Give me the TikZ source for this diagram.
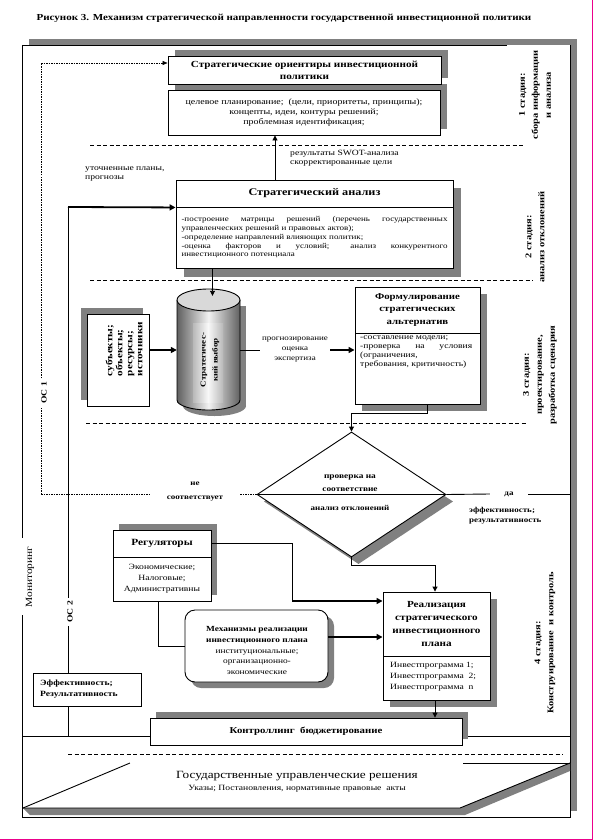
\documentclass[tikz,border=0pt]{standalone}
\usepackage{fontspec}
\setmainfont{Liberation Serif}[FakeStretch=1.2]
\usetikzlibrary{arrows.meta,shapes.geometric,calc}
\newcommand\fsz[2]{\fontsize{#1}{#2}\selectfont}
\definecolor{shd}{HTML}{808080}
\tikzset{
  box/.style={draw, fill=white, line width=0.9pt, inner sep=0pt},
  hdr/.style={font=\bfseries\fsz{9.3}{12}, align=center},
  ln/.style={line width=0.9pt},
  arr/.style={-{Triangle[length=5pt,width=5pt]}, line width=0.9pt},
  tarr/.style={-{Triangle[length=6pt,width=6pt]}, line width=1.8pt},
  sepline/.style={dash pattern=on 4pt off 2.5pt, line width=0.7pt},
  dotline/.style={dash pattern=on 1.5pt off 1pt, line width=0.6pt},
  stg/.style={rotate=90, font=\bfseries\fsz{8.7}{13}, align=center, inner sep=0pt},
  rot/.style={rotate=90, inner sep=0pt},
}
\begin{document}
\begin{tikzpicture}[x=1pt,y=-1pt]
\useasboundingbox (0,0) rectangle (593,840);
\fill[white] (0,0) rectangle (593,840);
\draw[magenta, line width=1pt] (592.5,0) -- (592.5,839.5) -- (0,839.5);

% title
\node[font=\bfseries\fsz{9.2}{11}, inner sep=0] (title) at (284,18) {Рисунок 3. Механизм стратегической направленности государственной инвестиционной политики};

% outer frame
\fill[shd] (29,39) rectangle (577,811);
\fill[white] (22,45) rectangle (570,817);
\draw[ln] (22,45) -- (507,45);
\draw[ln] (570,45) -- (570,817) -- (22,817) -- (22,615);
\draw[ln] (22,45) -- (22,538);

% stage labels
\node[stg] (st1) at (535,95) {1 стадия:\\сбора информации\\и анализа};
\node[stg] (st2) at (535,237) {2 стадия:\\анализ отклонений};
\node[stg] (st3) at (540,375) {3 стадия:\\проектирование,\\разработка сценария};
\node[stg] (st4) at (545,643) {4 стадия:\\Конструирование\ \ и контроль};

% separators
\draw[sepline] (90,145) -- (525,145);
\draw[sepline] (90,280) -- (533,280);
\draw[sepline] (86,423) -- (526,423);
\draw[sepline] (68,754) -- (563,754);

% strategic orientirs
\fill[shd] (175,50) rectangle (448,78);
\fill[shd] (175,84) rectangle (447,129);
\node[box, minimum width=273pt, minimum height=28pt, hdr] (oH) at (304.5,70) {Стратегические ориентиры инвестиционной\\политики};
\node[box, minimum width=272pt, minimum height=45pt, font=\fsz{8.3}{9.7}, align=center] (oB) at (304,112.5) {целевое планирование;\ \ (цели, приоритеты, принципы);\\концепты, идеи, контуры решений;\\проблемная идентификация;};

% strategic analysis
\fill[shd] (184,188) rectangle (461,277);
\node[box, minimum width=277pt, minimum height=27pt, hdr, font=\bfseries\fsz{10.2}{12}] (anH) at (314.5,193.5) {Стратегический анализ};
\node[box, minimum width=277pt, minimum height=61pt] (anB) at (314.5,237.5) {};
\node[font=\fsz{7.5}{8.8}, align=left, inner sep=0] (anT) at (anB) {\makebox[266pt][s]{-построение матрицы решений (перечень государственных}\\управленческих решений и правовых актов);\\-определение направлений влияющих политик;\\\makebox[266pt][s]{-оценка факторов и условий; анализ конкурентного}\\инвестиционного потенциала};

\node[font=\fsz{8}{9}, align=left, anchor=west, inner sep=0] (swot) at (290,158) {результаты SWOT-анализа\\скорректированные цели};
\draw[arr] ([xshift=-39.5pt]anH.north) -- ([xshift=-39.5pt]anH.north |- oB.south);

\node[font=\fsz{8}{9}, align=left, anchor=north west, inner sep=0] (utoch) at (85,167) {уточненные планы,\\прогнозы};

% OC2 line and arrow into analysis
\coordinate (oc2) at (68,207);
\draw[ln] (oc2) -- (68,598);
\draw[ln] (68,626) -- (68,736);
\draw[tarr] (oc2) -- (anH.south west);
\node[rot, font=\bfseries\fsz{8}{9}] (oc2l) at (70,612) {ОС 2};

% OC1 dotted line
\coordinate (oc1b) at (41,494);
\draw[dotline] (oc1b) -- (41,408);
\draw[dotline, -{Triangle[length=5pt,width=4pt]}] (41,378) |- ([yshift=7pt]oH.west);
\node[rot, font=\bfseries\fsz{8}{9}] (oc1l) at (44,393) {ОС 1};

% monitoring
\node[rot, font=\fsz{9.5}{11}] (mon) at (30,577) {Мониторинг};

% subjects box
\fill[shd] (81,308) rectangle (143,400);
\node[box, minimum width=62pt, minimum height=92pt] (sb) at (118,360) {};
\node[rotate=90, font=\bfseries\fsz{9.3}{10}, align=left, inner sep=0] (sbt) at (124,349) {субъекты;\\объекты;\\ресурсы;\\источники};

% cylinder
\fill[shd] (183,306) rectangle (246,406);
\fill[shd] (214.5,406) ellipse [x radius=31.5pt, y radius=10pt];
\shade[left color=gray!75!black, right color=gray!75!black, middle color=gray!10] (177,300) -- (177,400) arc[start angle=180,end angle=360,x radius=31.5pt,y radius=10pt] -- (240,300) -- cycle;
\draw[ln] (177,300) -- (177,400) arc[start angle=180,end angle=360,x radius=31.5pt,y radius=10pt] -- (240,300);
\draw[ln, fill=gray!30] (208.5,300) ellipse [x radius=31.5pt, y radius=11pt];
\shade[left color=gray!55, right color=gray!55, middle color=gray!5] (193,323) rectangle (223,402);
\node[rotate=90, font=\bfseries\fsz{7.5}{12}, align=center, inner sep=0] (cylt) at (210,360) {Стратегичес-\\кий выбор};
\node[minimum width=63pt, minimum height=120pt, inner sep=0pt] (cyl) at (208.5,350) {};

\draw[arr] ([xshift=4pt]cyl.north |- anB.south) -- ([xshift=4pt,yshift=-6pt]cyl.north);
\draw[tarr] (sb.east |- cyl.west) -- (cyl.west);

% prognoz label
\node[font=\fsz{7.5}{10}, align=center, inner sep=2pt] (prog) at (295,350) {прогнозирование\\оценка\\экспертиза};
\draw[ln] (cyl.east) -- (prog.west);

% formulation
\fill[shd] (362,294) rectangle (487,411);
\node[box, minimum width=125pt, minimum height=46pt, hdr, font=\bfseries\fsz{9}{12.3}] (fH) at (417.5,310) {Формулирование\\стратегических\\альтернатив};
\node[box, minimum width=125pt, minimum height=71pt] (fB) at (417.5,368.5) {};
\node[font=\fsz{8}{9}, align=left, anchor=north west, inner sep=0] (fT) at (360,336) {-составление модели;\\\makebox[112pt][s]{-проверка на условия}\\(ограничения,\\требования, критичность)};
\draw[tarr] (prog.east) -- (prog.east -| fB.west);

% diamond
\node[diamond, fill=shd, minimum width=189pt, minimum height=125pt, inner sep=0pt] at (358.5,501.5) {};
\node[diamond, draw, fill=white, line width=0.9pt, minimum width=189pt, minimum height=125pt, inner sep=0pt] (dm) at (351.5,494.5) {};
\draw[ln] (dm.west) -- (dm.east);
\node[font=\bfseries\fsz{7.8}{13}, align=center, inner sep=0] (dmt1) at (350,483) {проверка на\\соответствие};
\node[font=\bfseries\fsz{7.5}{9}, inner sep=0] (dmt2) at (350,508) {анализ отклонений};
\draw[arr] ([xshift=10pt]fB.south) -- ++(0,9) -| (dm.north);

\node[font=\bfseries\fsz{7.5}{14}, align=center, inner sep=0, minimum width=90pt] (ne) at (195,492) {не\\соответствует};
\draw[dotline] (oc1b) -- (ne.west |- oc1b);
\draw[dotline] (ne.east |- dm.west) -- (dm.west);

\node[font=\bfseries\fsz{7.5}{9}, inner sep=0, minimum width=38pt] (da) at (509,494) {да};
\coordinate (frR) at (570,494);
\draw[ln] (dm.east) -- (da.west);
\draw[ln] (da.east) -- (frR);
\node[font=\bfseries\fsz{7.5}{10}, align=left, anchor=north west, inner sep=0] (effr) at (469,507) {эффективность;\\результативность};

% regulators
\fill[shd] (119,524) rectangle (217,595);
\node[box, minimum width=98pt, minimum height=27pt, font=\bfseries\fsz{9.5}{10}] (rgH) at (162,543.5) {Регуляторы};
\node[box, minimum width=98pt, minimum height=44pt, font=\fsz{8}{11}, align=center] (rgB) at (162,579) {Экономические;\\Налоговые;\\Административны};

% mechanisms
\fill[shd, rounded corners=10pt] (191,616) rectangle (334,688);
\node[box, rounded corners=10pt, minimum width=143pt, minimum height=72pt] (mc) at (256.5,646) {};
\node[font=\fsz{7.8}{10.8}, align=center, inner sep=0] (mct) at (257,650.5) {\textbf{Механизмы реализации}\\\textbf{инвестиционного плана}\\институциональные;\\организационно-\\экономические};

% realization
\fill[shd] (390,599) rectangle (497,707);
\node[box, minimum width=107pt, minimum height=64pt, font=\bfseries\fsz{9.3}{13}, align=center] (rzH) at (436.5,624) {Реализация\\стратегического\\инвестиционного\\плана};
\node[box, minimum width=107pt, minimum height=44pt] (rzB) at (436.5,678) {};
\node[font=\fsz{8}{11}, align=left, anchor=west, inner sep=0] (rzT) at (390,677) {Инвестпрограмма 1;\\Инвестпрограмма\ \ 2;\\Инвестпрограмма\ \ n};

% connectors to realization
\coordinate (k1) at (292,601);
\draw[ln] (rgH.east) -| (k1);
\draw[tarr] (k1) -- (k1 -| rzH.west);
\draw[arr] (dm.south) -- ++(0,8) -| ([xshift=-1.5pt]rzH.north);
\draw[ln] ([xshift=-4pt]rgB.south) |- (mc.west);
\draw[tarr] ([yshift=9pt]mc.east) -- ([yshift=9pt]mc.east -| rzH.west);

% efficiency box
\node[box, minimum width=108pt, minimum height=33pt] (ef) at (87,689.5) {};
\node[font=\bfseries\fsz{8}{11}, align=left, anchor=west, inner sep=0] (eft) at (40,689.5) {Эффективность;\\Результативность};

% controlling
\draw[ln] (22,736) -- (150,736);
\draw[ln] (462,736) -- (570,736);
\fill[shd] (156,712) rectangle (468,739);
\node[box, minimum width=312pt, minimum height=27pt, font=\bfseries\fsz{9}{11}] (ct) at (306,731.5) {Контроллинг\ \ бюджетирование};
\draw[arr] ([xshift=-1.5pt]rzB.south) -- ([xshift=-1.5pt]rzB.south |- ct.north);

% state decisions parallelogram
\fill[shd] (23,808) -- (460,808) -- (570,763) -- (570,771) -- (465,815) -- (30,815) -- cycle;
\draw[ln] (23,808) -- (130,763);
\draw[ln] (463,763) -- (570,763);
\draw[ln] (23,808) -- (460,808) -- (570,763);
\node[font=\fsz{11}{13}, inner sep=0] (gov1) at (297,776) {Государственные управленческие решения};
\node[font=\fsz{8}{10}, inner sep=0] (gov2) at (297,789) {Указы; Постановления, нормативные правовые\ \ акты};
\end{tikzpicture}
\end{document}
